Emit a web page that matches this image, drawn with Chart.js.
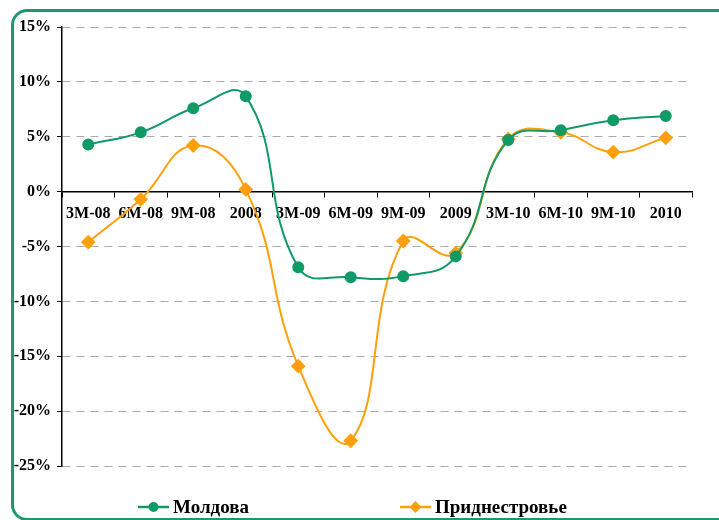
<!DOCTYPE html>
<html>
<head>
<meta charset="utf-8">
<script src="https://cdn.jsdelivr.net/npm/chart.js@4"></script>
<style>
  html, body { margin: 0; padding: 0; background: #fff; }
  #wrap { position: relative; width: 719px; height: 520px; overflow: hidden; }
  #frame { position: absolute; left: 11px; top: 9px; width: 740px; height: 506px;
           border: 3px solid #1a9b6c; border-radius: 16px; }
  #grafico { position: absolute; left: 0; top: 0; }
</style>
</head>
<body>
<div id="wrap">
  <div id="frame"></div>
  <canvas id="grafico" width="719" height="520"></canvas>
</div>
<script>
const categorias = ["3M-08", "6M-08", "9M-08", "2008", "3M-09", "6M-09", "9M-09", "2009", "3M-10", "6M-10", "9M-10", "2010"];
const moldova = [4.3, 5.4, 7.6, 8.7, -6.9, -7.8, -7.7, -5.9, 4.7, 5.6, 6.5, 6.9];
const pridnestrovie = [-4.6, -0.7, 4.2, 0.2, -15.9, -22.7, -4.5, -5.6, 4.8, 5.4, 3.6, 4.9];
const nomesSeries = ["Молдова", "Приднестровье"];

const verde = "#0f9a66";
const laranja = "#ffa00a";
const fonte = "'Liberation Serif', 'Times New Roman', serif";

// legenda desenhada à mão (itens bem afastados como no original)
const legendaPlugin = {
    id: "legendaManual",
    afterDraw(chart) {
        const ctx = chart.ctx;
        const itens = [
            { x: 138, cor: verde, forma: "circle", nome: nomesSeries[0] },
            { x: 400, cor: laranja, forma: "diamond", nome: nomesSeries[1] }
        ];
        const y = 507;
        ctx.save();
        itens.forEach(it => {
            ctx.strokeStyle = it.cor;
            ctx.lineWidth = 2.5;
            ctx.beginPath();
            ctx.moveTo(it.x, y);
            ctx.lineTo(it.x + 31, y);
            ctx.stroke();
            ctx.fillStyle = it.cor;
            ctx.beginPath();
            if (it.forma === "circle") {
                ctx.arc(it.x + 15.5, y, 5, 0, Math.PI * 2);
            } else {
                ctx.moveTo(it.x + 15.5, y - 6);
                ctx.lineTo(it.x + 21.5, y);
                ctx.lineTo(it.x + 15.5, y + 6);
                ctx.lineTo(it.x + 9.5, y);
                ctx.closePath();
            }
            ctx.fill();
            ctx.fillStyle = "#000";
            ctx.font = "bold 19px " + fonte;
            ctx.textBaseline = "middle";
            ctx.fillText(it.nome, it.x + 35, y + 1);
        });
        ctx.restore();
    }
};

new Chart(document.getElementById("grafico"), {
    type: "line",
    data: {
        labels: categorias,
        datasets: [{
            label: nomesSeries[0],
            data: moldova,
            borderColor: verde,
            backgroundColor: verde,
            borderWidth: 2,
            pointStyle: "circle",
            pointRadius: 5,
            pointHoverRadius: 5,
            tension: 0.45
        }, {
            label: nomesSeries[1],
            data: pridnestrovie,
            borderColor: laranja,
            backgroundColor: laranja,
            borderWidth: 2,
            pointStyle: "rectRot",
            pointRadius: 6,
            pointHoverRadius: 6,
            tension: 0.45
        }]
    },
    options: {
        responsive: false,
        animation: false,
        devicePixelRatio: 1,
        layout: { padding: { left: 0, top: 27, right: 27, bottom: 54 } },
        plugins: {
            legend: { display: false },
            tooltip: { enabled: false }
        },
        scales: {
            x: {
                position: { y: 0 },
                offset: true,
                grid: {
                    offset: true,
                    drawOnChartArea: false,
                    drawTicks: true,
                    tickLength: 5,
                    tickColor: "#000",
                    tickWidth: 1
                },
                border: { display: true, color: "#000", width: 1.5 },
                ticks: {
                    color: "#000",
                    font: { family: fonte, size: 16, weight: "bold" },
                    padding: 8,
                    maxRotation: 0,
                    autoSkip: false
                }
            },
            y: {
                min: -25,
                max: 15,
                afterFit: (scale) => { scale.width = 62; },
                grid: {
                    color: "#aaaaaa",
                    lineWidth: 1,
                    drawTicks: true,
                    tickLength: 5,
                    tickColor: "#000",
                    tickBorderDash: []
                },
                border: { display: true, color: "#000", width: 1.5, dash: [8, 6] },
                ticks: {
                    stepSize: 5,
                    color: "#000",
                    padding: 6,
                    font: { family: fonte, size: 16, weight: "bold" },
                    callback: (v) => v + "%"
                }
            }
        }
    },
    plugins: [legendaPlugin]
});
</script>
</body>
</html>
